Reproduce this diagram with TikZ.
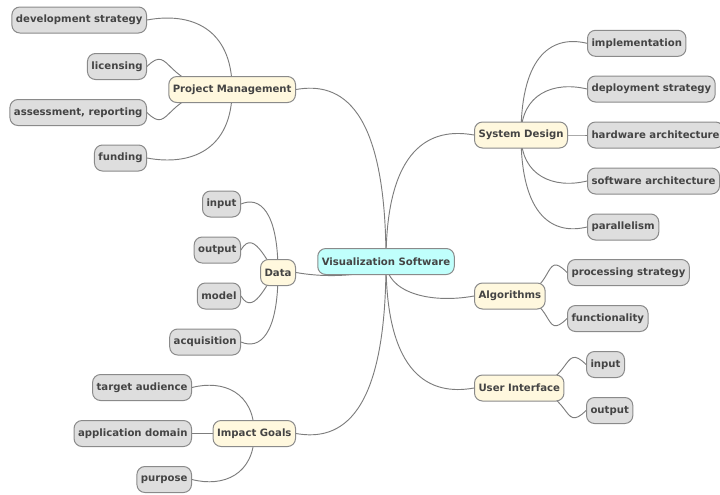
\documentclass[tikz,border=0pt]{standalone}
\usepackage{fontspec}
\setmainfont{DejaVu Sans}
\usetikzlibrary{backgrounds,calc}
\definecolor{txt}{RGB}{68,68,68}
\definecolor{bord}{RGB}{138,138,138}
\definecolor{leaf}{RGB}{222,222,222}
\definecolor{lvl}{RGB}{255,248,222}
\definecolor{rootc}{RGB}{192,255,252}
\definecolor{linkc}{RGB}{125,125,125}
% long link: vertical from parent centre, slight overshoot into child
\newcommand{\mmlink}[2]{%
  \draw[link] let \p1=(#1.center), \p2=(#2) in
    (\p1) .. controls (\x1,{\y1+0.9*(\y2-\y1)}) and ({0.5*(\x1+\x2)},{\y2+6*sign(\y2-\y1)}) .. (\p2);}
% short link: explicit control offsets (in px units of the picture)
\newcommand{\mmshort}[5]{%
  \draw[link] let \p1=(#1.center), \p2=(#2) in
    (\p1) .. controls ($(\p1)+(#3,0)$) and ($(\p2)+(#4,#5)$) .. (\p2);}
\begin{document}
\begin{tikzpicture}[x=0.75pt,y=-0.75pt,
  box/.style={draw=bord,line width=0.75pt,rounded corners=6pt,minimum height=19.5pt,
    inner xsep=3pt,inner ysep=0pt,text=txt,font=\fontsize{7.6}{9}\selectfont\bfseries},
  leafbox/.style={box,fill=leaf},
  lvlbox/.style={box,fill=lvl},
  rootbox/.style={box,fill=rootc},
  link/.style={draw=linkc,line width=0.7pt}]
\useasboundingbox (0,0) rectangle (720,494);
\node[rootbox] (root) at (386,261.5) {Visualization Software};
% left side
\node[lvlbox,anchor=east] (pm) at (296,89.5) {Project Management};
\node[leafbox,anchor=east] (devs) at (147,20) {development strategy};
\node[leafbox,anchor=east] (lic) at (147,66.5) {licensing};
\node[leafbox,anchor=east] (ass) at (147,112.5) {assessment, reporting};
\node[leafbox,anchor=east] (fund) at (147,158) {funding};
\node[lvlbox,anchor=east] (data) at (296,272.5) {Data};
\node[leafbox,anchor=east] (din) at (241,204) {input};
\node[leafbox,anchor=east] (dout) at (241,250) {output};
\node[leafbox,anchor=east] (dmod) at (241,296) {model};
\node[leafbox,anchor=east] (dacq) at (241,342) {acquisition};
\node[lvlbox,anchor=east] (ig) at (296,433.5) {Impact Goals};
\node[leafbox,anchor=east] (ta) at (192,387.5) {target audience};
\node[leafbox,anchor=east] (ad) at (192,433.5) {application domain};
\node[leafbox,anchor=east] (pur) at (192,479.5) {purpose};
% right side
\node[lvlbox,anchor=west] (sd) at (474,135) {System Design};
\node[leafbox,anchor=west] (impl) at (587,43.3) {implementation};
\node[leafbox,anchor=west] (dep) at (587,89) {deployment strategy};
\node[leafbox,anchor=west] (hw) at (587,135) {hardware architecture};
\node[leafbox,anchor=west] (sw) at (587,181) {software architecture};
\node[leafbox,anchor=west] (par) at (587,227) {parallelism};
\node[lvlbox,anchor=west] (alg) at (474,296) {Algorithms};
\node[leafbox,anchor=west] (proc) at (567,272.5) {processing strategy};
\node[leafbox,anchor=west] (func) at (567,318.5) {functionality};
\node[lvlbox,anchor=west] (ui) at (474,388) {User Interface};
\node[leafbox,anchor=west] (uin) at (586,364.5) {input};
\node[leafbox,anchor=west] (uout) at (586,410.5) {output};
\begin{scope}[on background layer]
\mmlink{root}{pm.east}
\mmlink{root}{data.east}
\mmlink{root}{ig.east}
\mmlink{root}{sd.west}
\mmlink{root}{alg.west}
\mmlink{root}{ui.west}
\mmlink{pm}{devs.east}
\mmshort{pm}{lic.east}{-71}{25}{-25}
\mmshort{pm}{ass.east}{-71}{25}{25}
\mmlink{pm}{fund.east}
\mmlink{data}{din.east}
\mmshort{data}{dout.east}{-8}{14}{-25}
\mmshort{data}{dmod.east}{-8}{14}{24}
\mmlink{data}{dacq.east}
\mmlink{ig}{ta.east}
\mmlink{ig}{ad.east}
\mmlink{ig}{pur.east}
\mmlink{sd}{impl.west}
\mmlink{sd}{dep.west}
\mmlink{sd}{hw.west}
\mmlink{sd}{sw.west}
\mmlink{sd}{par.west}
\mmshort{alg}{proc.west}{47}{-25}{-26}
\mmshort{alg}{func.west}{47}{-25}{25}
\mmshort{ui}{uin.west}{55}{-25}{-25}
\mmshort{ui}{uout.west}{55}{-25}{25}
\end{scope}
\end{tikzpicture}
\end{document}
